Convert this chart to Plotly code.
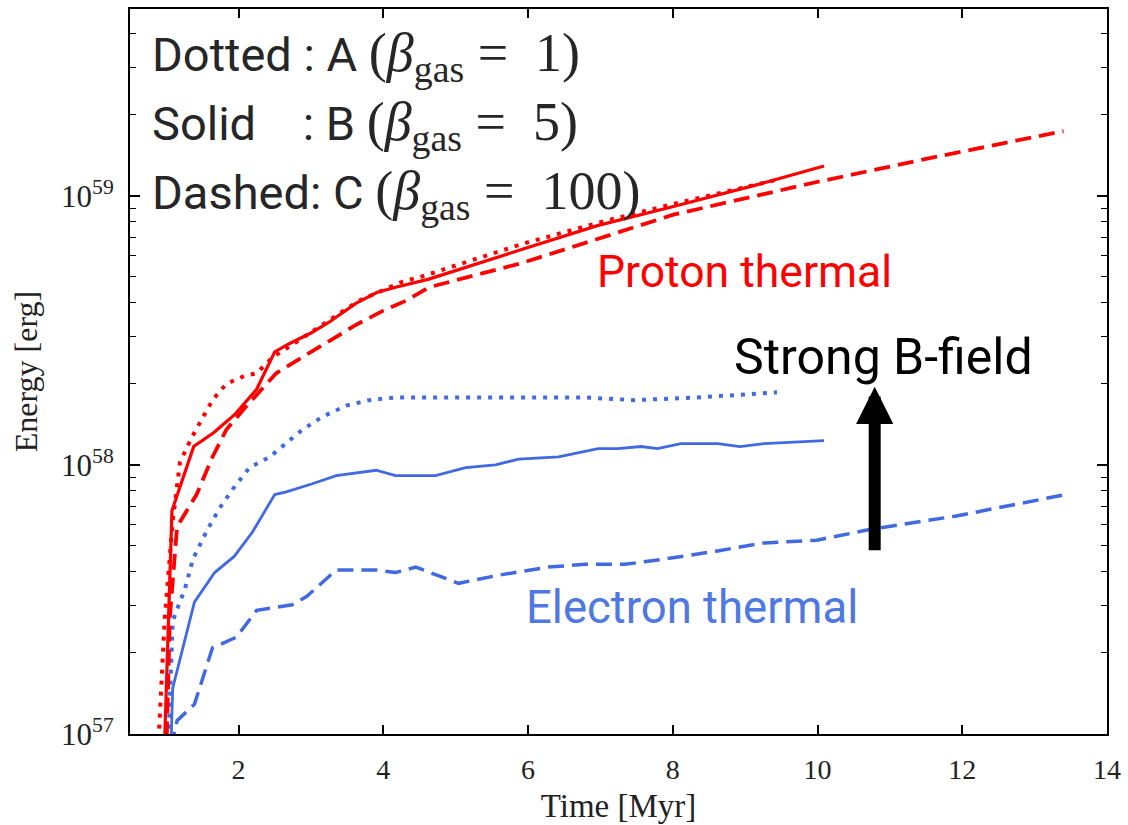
import plotly.graph_objects as go

# Thermal energy evolution for three magnetisation runs (values in erg)
E57 = 1e57

# Run A (beta_gas = 1) -- dotted
t_A_p = [0.88, 0.98, 1.09, 1.19, 1.35, 1.49, 1.64, 1.83, 2.08, 2.25, 2.47, 2.70,
         3.21, 3.66, 4.26, 4.53, 5.91, 6.97, 8.01, 9.46]
e_A_p = [0.79, 2.69, 6.17, 10.2, 12.6, 14.8, 17.4, 20.0, 21.4, 21.9, 25.1, 27.5,
         33.9, 40.7, 47.9, 50.1, 66.1, 79.4, 93.3, 115]
t_A_e = [1.02, 1.09, 1.26, 1.37, 1.57, 1.74, 1.92, 2.15, 2.43, 2.66, 2.88, 3.16,
         3.49, 3.80, 4.17, 4.63, 5.59, 6.79, 7.47, 8.34, 9.44]
e_A_e = [0.79, 2.63, 3.47, 4.47, 5.75, 6.92, 8.13, 9.77, 10.7, 12.0, 13.5, 15.1,
         16.6, 17.4, 17.8, 17.8, 17.8, 17.8, 17.4, 17.8, 18.6]

# Run B (beta_gas = 5) -- solid
t_B_p = [0.97, 1.08, 1.38, 1.66, 1.96, 2.25, 2.50, 2.70, 3.00, 3.25, 3.62, 3.91,
         4.17, 4.63, 5.91, 6.97, 8.01, 9.17, 10.09]
e_B_p = [0.79, 6.76, 11.7, 13.2, 15.5, 19.1, 26.3, 28.2, 30.9, 33.9, 39.8, 43.7,
         45.7, 49.0, 63.1, 77.6, 91.2, 110, 129]
t_B_e = [1.06, 1.09, 1.39, 1.67, 1.94, 2.19, 2.50, 2.66, 3.02, 3.35, 3.90, 4.17,
         4.72, 5.14, 5.55, 5.87, 6.42, 6.97, 7.24, 7.56, 7.79, 8.11, 8.62, 8.93,
         9.26, 10.09]
e_B_e = [0.79, 1.48, 3.09, 3.98, 4.57, 5.62, 7.76, 7.94, 8.51, 9.12, 9.55, 9.12,
         9.12, 9.77, 10.0, 10.5, 10.7, 11.5, 11.5, 11.7, 11.5, 12.0, 12.0, 11.7,
         12.0, 12.3]

# Run C (beta_gas = 100) -- dashed
t_C_p = [1.00, 1.05, 1.15, 1.28, 1.42, 1.64, 1.83, 2.08, 2.33, 2.52, 2.88, 3.25,
         3.62, 3.98, 4.31, 4.63, 5.91, 6.97, 8.01, 9.96, 11.55, 13.40]
e_C_p = [0.79, 2.69, 5.89, 6.76, 7.76, 10.7, 13.5, 16.2, 19.1, 21.9, 25.1, 28.8,
         33.1, 37.2, 40.7, 45.7, 56.2, 69.2, 85.1, 112, 138, 174]
t_C_e = [1.07, 1.15, 1.39, 1.64, 1.97, 2.25, 2.74, 2.94, 3.35, 3.90, 4.17, 4.45,
         5.04, 5.59, 6.28, 6.79, 7.34, 7.89, 8.62, 9.26, 9.99, 10.72, 11.92, 13.43]
e_C_e = [0.89, 1.12, 1.29, 2.09, 2.29, 2.88, 3.02, 3.24, 4.07, 4.07, 3.98, 4.17,
         3.63, 3.89, 4.17, 4.27, 4.27, 4.47, 4.79, 5.13, 5.25, 5.75, 6.46, 7.76]

x_ticks = [2, 4, 6, 8, 10, 12, 14]
y_ticks = [1e57, 1e58, 1e59]
y_tick_text = ["10<sup>57</sup>", "10<sup>58</sup>", "10<sup>59</sup>"]
y_minor = [m * 10.0 ** p for p in (57, 58, 59) for m in range(2, 10)
           if m * 10.0 ** p < 5e59]

RED = "#ff0000"
BLUE = "#4169e1"
DOT = "4px,7px"
DASH = "16px,8px"

series = [
    (t_C_e, e_C_e, BLUE, DASH, 3.5),
    (t_B_e, e_B_e, BLUE, "solid", 2.8),
    (t_A_e, e_A_e, BLUE, DOT, 4),
    (t_C_p, e_C_p, RED, DASH, 3.8),
    (t_A_p, e_A_p, RED, DOT, 4),
    (t_B_p, e_B_p, RED, "solid", 3.2),
]

fig = go.Figure()
for t, e, col, dash, w in series:
    fig.add_trace(go.Scatter(
        x=t, y=[v * E57 for v in e], mode="lines",
        line=dict(color=col, dash=dash, width=w),
        showlegend=False, hoverinfo="skip"))

serif = "Liberation Serif, DejaVu Serif, serif"
axis_common = dict(
    showline=True, linecolor="black", linewidth=2, mirror="ticks",
    ticks="inside", tickcolor="black", tickwidth=1.5,
    showgrid=False, zeroline=False,
)

fig.update_xaxes(
    range=[0.5, 14], tickvals=x_ticks, ticklen=9,
    ticklabelstandoff=9,
    tickfont=dict(family=serif, size=28, color="#222222"),
    title=dict(text="Time [Myr]", font=dict(family=serif, size=33, color="#222222"),
               standoff=10),
    **axis_common)
fig.update_yaxes(
    type="log", range=[57, 59.694], tickvals=y_ticks, ticktext=y_tick_text,
    ticklen=10, ticklabelstandoff=8,
    tickfont=dict(family=serif, size=31, color="#222222"),
    minor=dict(tickvals=y_minor, ticks="inside", ticklen=6, tickwidth=1.2,
               tickcolor="black"),
    title=dict(text="Energy [erg]", font=dict(family=serif, size=32, color="#222222"),
               standoff=14),
    **axis_common)

sans = "Roboto, Noto Sans, sans-serif"
beta_font = "font-family:'Liberation Serif';font-size:54px"
sp = "\u00a0"
legend_lines = [
    ("Dotted : A", "1", 0.934),
    ("Solid" + sp * 3 + " : B", "5", 0.840),
    ("Dashed: C", "100", 0.744),
]
for label, beta, yp in legend_lines:
    fig.add_annotation(
        xref="paper", yref="paper", x=0.0204, y=yp,
        xanchor="left", yanchor="middle", showarrow=False,
        text=(f'{label} <span style="{beta_font}">(<i>β</i><sub>gas</sub>'
              f'{sp}={sp}{sp}{beta})</span>'),
        font=dict(family=sans, size=47, color="#262626"))

fig.add_annotation(xref="paper", yref="paper", x=0.4756, y=0.637,
                   xanchor="left", yanchor="middle", showarrow=False,
                   text="Proton thermal", font=dict(family=sans, size=44.5, color=RED))
fig.add_annotation(xref="paper", yref="paper", x=0.403, y=0.175,
                   xanchor="left", yanchor="middle", showarrow=False,
                   text="Electron thermal",
                   font=dict(family=sans, size=45.5, color="#4f78e0"))
fig.add_annotation(xref="paper", yref="paper", x=0.616, y=0.5205,
                   xanchor="left", yanchor="middle", showarrow=False,
                   text="Strong B-field", font=dict(family=sans, size=50, color="black"))

# Upward arrow marking the trend towards stronger magnetic field
fig.add_annotation(x=10.79, y=58.29, xref="x", yref="y", text="",
                   showarrow=True, ax=0, ay=165, arrowhead=2, arrowsize=0.62,
                   arrowwidth=12, arrowcolor="black", standoff=0)

fig.update_layout(
    width=1128, height=825,
    margin=dict(l=130, r=16, t=7, b=88),
    paper_bgcolor="white", plot_bgcolor="white",
)

fig.write_html("out.html")
